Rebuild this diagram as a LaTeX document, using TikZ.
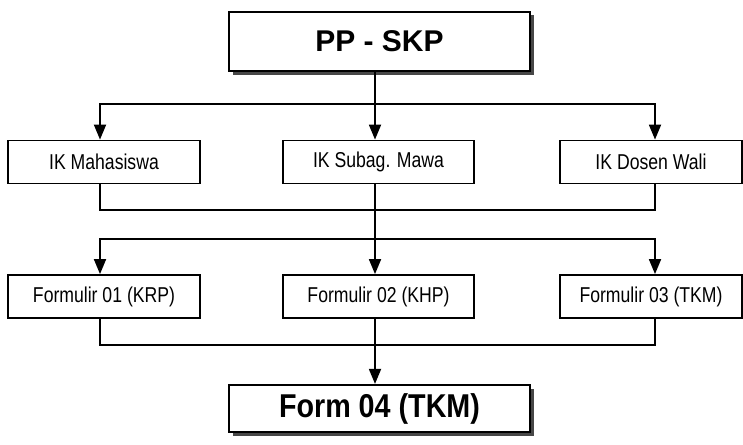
\documentclass[tikz,border=0pt]{standalone}
\usepackage{fontspec}
\setmainfont{Liberation Sans}
\newfontfamily\narrowfam[FakeStretch=0.82]{Liberation Sans}
\newfontfamily\boldnarrowfam[FakeStretch=0.87]{Liberation Sans}
\usetikzlibrary{arrows.meta,shadows}
\begin{document}
\begin{tikzpicture}[x=1pt,y=-1pt,
  conn/.style={line width=1.8pt, line cap=rect},
  arr/.style={line width=1.8pt, -{Triangle[length=15pt,width=12pt]}},
  smallbox/.style={draw, line width=1.8pt, fill=white, minimum height=43pt, inner sep=0pt,
     font=\narrowfam\fontsize{21.5}{25}\selectfont},
  bigbox/.style={draw, line width=2.2pt, fill=white, inner sep=0pt,
     drop shadow={shadow xshift=3.5pt, shadow yshift=-3.5pt, fill=black!72, opacity=1}}
]
\useasboundingbox (0,0) rectangle (743,444);
\fill[white] (0,0) rectangle (743,444);

\node[bigbox, minimum width=301pt, minimum height=59pt,
      font=\bfseries\fontsize{30}{34}\selectfont] (top) at (379.5,41.5) {PP - SKP};

\node[smallbox, minimum width=192pt] (ik1) at (104,162) {IK Mahasiswa};
\node[smallbox, minimum width=191pt] (ik2) at (378.5,162) {IK Subag. Mawa};
\node[smallbox, minimum width=182pt] (ik3) at (651,162) {IK Dosen Wali};

\node[smallbox, minimum width=192pt] (f1) at (104,296.5) {Formulir 01 (KRP)};
\node[smallbox, minimum width=191pt] (f2) at (378.5,296.5) {Formulir 02 (KHP)};
\node[smallbox, minimum width=182pt] (f3) at (651,296.5) {Formulir 03 (TKM)};

\node[bigbox, minimum width=301pt, minimum height=47pt,
      font=\boldnarrowfam\bfseries\fontsize{33}{37}\selectfont] (bot) at (379.5,408.5) {Form 04 (TKM)};

% column coordinates and bus lines
\coordinate (xa) at (100,0);
\coordinate (xb) at (375,0);
\coordinate (xc) at (655,0);
\coordinate (bus1) at (0,104);
\coordinate (bus2) at (0,210);
\coordinate (bus3) at (0,239);
\coordinate (bus4) at (0,345);

% top to IK row
\draw[conn] (xb |- top.south) -- (xb |- bus1);
\draw[conn] (xa |- bus1) -- (xc |- bus1);
\draw[arr] (xa |- bus1) -- (xa |- ik1.north);
\draw[arr] (xb |- bus1) -- (xb |- ik2.north);
\draw[arr] (xc |- bus1) -- (xc |- ik3.north);

% IK row to Formulir row
\draw[conn] (xa |- ik1.south) -- (xa |- bus2) -- (xc |- bus2) -- (xc |- ik3.south);
\draw[conn] (xb |- ik2.south) -- (xb |- bus3);
\draw[conn] (xa |- bus3) -- (xc |- bus3);
\draw[arr] (xa |- bus3) -- (xa |- f1.north);
\draw[arr] (xb |- bus3) -- (xb |- f2.north);
\draw[arr] (xc |- bus3) -- (xc |- f3.north);

% Formulir row to Form 04
\draw[conn] (xa |- f1.south) -- (xa |- bus4) -- (xc |- bus4) -- (xc |- f3.south);
\draw[conn] (xb |- f2.south) -- (xb |- bus4);
\draw[arr] (xb |- bus4) -- (xb |- bot.north);
\end{tikzpicture}
\end{document}
